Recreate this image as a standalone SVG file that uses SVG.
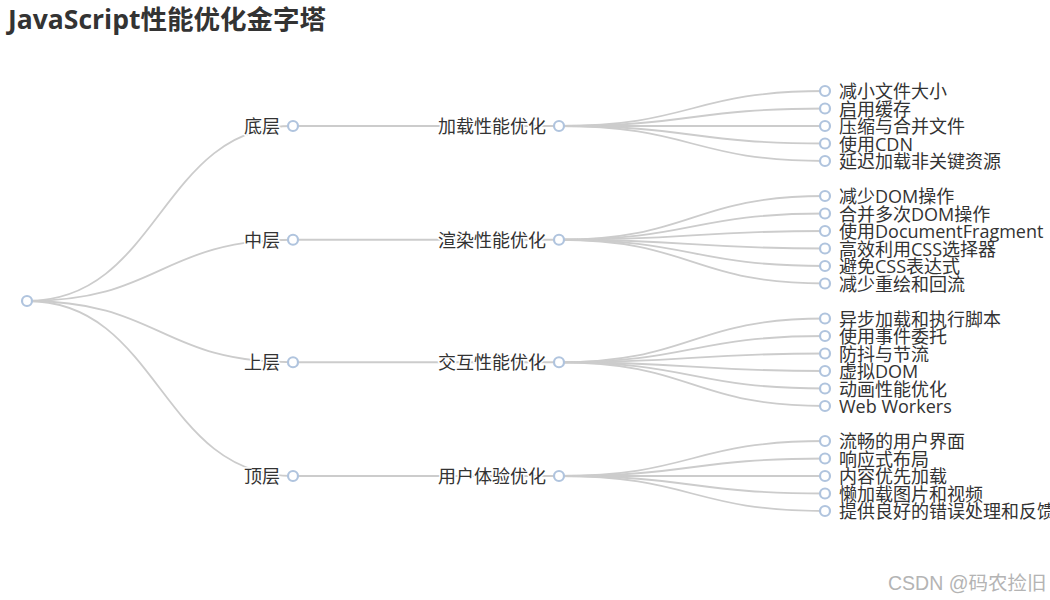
<svg xmlns="http://www.w3.org/2000/svg" width="1050" height="600" viewBox="0 0 1050 600">
<style>
.edge{fill:none;stroke:#cccccc;stroke-width:1.8}
.node{fill:#ffffff;stroke:#b0c4de;stroke-width:2.2}
.lbl{font-family:"Open Sans","Noto Sans CJK SC",sans-serif;font-size:18px;fill:#333333;dominant-baseline:central}
.inner{text-anchor:end;stroke:#ffffff;stroke-width:3;paint-order:stroke;stroke-linejoin:round}
.leaf{text-anchor:start}
.title{font-family:"Open Sans","Noto Sans CJK SC",sans-serif;font-size:26.5px;font-weight:bold;fill:#333333}
.wm{font-family:"Liberation Sans","Noto Sans CJK SC",sans-serif;font-size:19.5px;fill:#b4b4b4}
</style>
<rect width="1050" height="600" fill="#ffffff"/>
<text class="title" x="8" y="29">JavaScript性能优化金字塔</text>
<g id="connectors">
<path class="edge" d="M27,301 C160,301 160,126 293,126"/>
<path class="edge" d="M27,301 C160,301 160,239.75 293,239.75"/>
<path class="edge" d="M27,301 C160,301 160,362.25 293,362.25"/>
<path class="edge" d="M27,301 C160,301 160,476 293,476"/>
<path class="edge" d="M293,126 L559,126"/>
<path class="edge" d="M293,239.75 L559,239.75"/>
<path class="edge" d="M293,362.25 L559,362.25"/>
<path class="edge" d="M293,476 L559,476"/>
<path class="edge" d="M559,126 C692,126 692,91 825,91"/>
<path class="edge" d="M559,126 C692,126 692,108.5 825,108.5"/>
<path class="edge" d="M559,126 C692,126 692,126 825,126"/>
<path class="edge" d="M559,126 C692,126 692,143.5 825,143.5"/>
<path class="edge" d="M559,126 C692,126 692,161 825,161"/>
<path class="edge" d="M559,239.75 C692,239.75 692,196 825,196"/>
<path class="edge" d="M559,239.75 C692,239.75 692,213.5 825,213.5"/>
<path class="edge" d="M559,239.75 C692,239.75 692,231 825,231"/>
<path class="edge" d="M559,239.75 C692,239.75 692,248.5 825,248.5"/>
<path class="edge" d="M559,239.75 C692,239.75 692,266 825,266"/>
<path class="edge" d="M559,239.75 C692,239.75 692,283.5 825,283.5"/>
<path class="edge" d="M559,362.25 C692,362.25 692,318.5 825,318.5"/>
<path class="edge" d="M559,362.25 C692,362.25 692,336 825,336"/>
<path class="edge" d="M559,362.25 C692,362.25 692,353.5 825,353.5"/>
<path class="edge" d="M559,362.25 C692,362.25 692,371 825,371"/>
<path class="edge" d="M559,362.25 C692,362.25 692,388.5 825,388.5"/>
<path class="edge" d="M559,362.25 C692,362.25 692,406 825,406"/>
<path class="edge" d="M559,476 C692,476 692,441 825,441"/>
<path class="edge" d="M559,476 C692,476 692,458.5 825,458.5"/>
<path class="edge" d="M559,476 C692,476 692,476 825,476"/>
<path class="edge" d="M559,476 C692,476 692,493.5 825,493.5"/>
<path class="edge" d="M559,476 C692,476 692,511 825,511"/>
</g>
<g id="root"><circle class="node" cx="27" cy="301" r="5"/></g>
<g id="n-bottom"><text class="lbl inner" x="280" y="126">底层</text><circle class="node" cx="293" cy="126" r="5"/></g>
<g id="n-middle"><text class="lbl inner" x="280" y="239.75">中层</text><circle class="node" cx="293" cy="239.75" r="5"/></g>
<g id="n-upper"><text class="lbl inner" x="280" y="362.25">上层</text><circle class="node" cx="293" cy="362.25" r="5"/></g>
<g id="n-top"><text class="lbl inner" x="280" y="476">顶层</text><circle class="node" cx="293" cy="476" r="5"/></g>
<g id="n-load"><text class="lbl inner" x="546" y="126">加载性能优化</text><circle class="node" cx="559" cy="126" r="5"/></g>
<g id="n-render"><text class="lbl inner" x="546" y="239.75">渲染性能优化</text><circle class="node" cx="559" cy="239.75" r="5"/></g>
<g id="n-interact"><text class="lbl inner" x="546" y="362.25">交互性能优化</text><circle class="node" cx="559" cy="362.25" r="5"/></g>
<g id="n-ux"><text class="lbl inner" x="546" y="476">用户体验优化</text><circle class="node" cx="559" cy="476" r="5"/></g>
<g id="l1"><circle class="node" cx="825" cy="91" r="5"/><text class="lbl leaf" x="839" y="91">减小文件大小</text></g>
<g id="l2"><circle class="node" cx="825" cy="108.5" r="5"/><text class="lbl leaf" x="839" y="108.5">启用缓存</text></g>
<g id="l3"><circle class="node" cx="825" cy="126" r="5"/><text class="lbl leaf" x="839" y="126">压缩与合并文件</text></g>
<g id="l4"><circle class="node" cx="825" cy="143.5" r="5"/><text class="lbl leaf" x="839" y="143.5">使用CDN</text></g>
<g id="l5"><circle class="node" cx="825" cy="161" r="5"/><text class="lbl leaf" x="839" y="161">延迟加载非关键资源</text></g>
<g id="l6"><circle class="node" cx="825" cy="196" r="5"/><text class="lbl leaf" x="839" y="196">减少DOM操作</text></g>
<g id="l7"><circle class="node" cx="825" cy="213.5" r="5"/><text class="lbl leaf" x="839" y="213.5">合并多次DOM操作</text></g>
<g id="l8"><circle class="node" cx="825" cy="231" r="5"/><text class="lbl leaf" x="839" y="231">使用DocumentFragment</text></g>
<g id="l9"><circle class="node" cx="825" cy="248.5" r="5"/><text class="lbl leaf" x="839" y="248.5">高效利用CSS选择器</text></g>
<g id="l10"><circle class="node" cx="825" cy="266" r="5"/><text class="lbl leaf" x="839" y="266">避免CSS表达式</text></g>
<g id="l11"><circle class="node" cx="825" cy="283.5" r="5"/><text class="lbl leaf" x="839" y="283.5">减少重绘和回流</text></g>
<g id="l12"><circle class="node" cx="825" cy="318.5" r="5"/><text class="lbl leaf" x="839" y="318.5">异步加载和执行脚本</text></g>
<g id="l13"><circle class="node" cx="825" cy="336" r="5"/><text class="lbl leaf" x="839" y="336">使用事件委托</text></g>
<g id="l14"><circle class="node" cx="825" cy="353.5" r="5"/><text class="lbl leaf" x="839" y="353.5">防抖与节流</text></g>
<g id="l15"><circle class="node" cx="825" cy="371" r="5"/><text class="lbl leaf" x="839" y="371">虚拟DOM</text></g>
<g id="l16"><circle class="node" cx="825" cy="388.5" r="5"/><text class="lbl leaf" x="839" y="388.5">动画性能优化</text></g>
<g id="l17"><circle class="node" cx="825" cy="406" r="5"/><text class="lbl leaf" x="839" y="406">Web Workers</text></g>
<g id="l18"><circle class="node" cx="825" cy="441" r="5"/><text class="lbl leaf" x="839" y="441">流畅的用户界面</text></g>
<g id="l19"><circle class="node" cx="825" cy="458.5" r="5"/><text class="lbl leaf" x="839" y="458.5">响应式布局</text></g>
<g id="l20"><circle class="node" cx="825" cy="476" r="5"/><text class="lbl leaf" x="839" y="476">内容优先加载</text></g>
<g id="l21"><circle class="node" cx="825" cy="493.5" r="5"/><text class="lbl leaf" x="839" y="493.5">懒加载图片和视频</text></g>
<g id="l22"><circle class="node" cx="825" cy="511" r="5"/><text class="lbl leaf" x="839" y="511">提供良好的错误处理和反馈</text></g>
<text class="wm" x="888" y="590">CSDN @码农捡旧</text>
</svg>
